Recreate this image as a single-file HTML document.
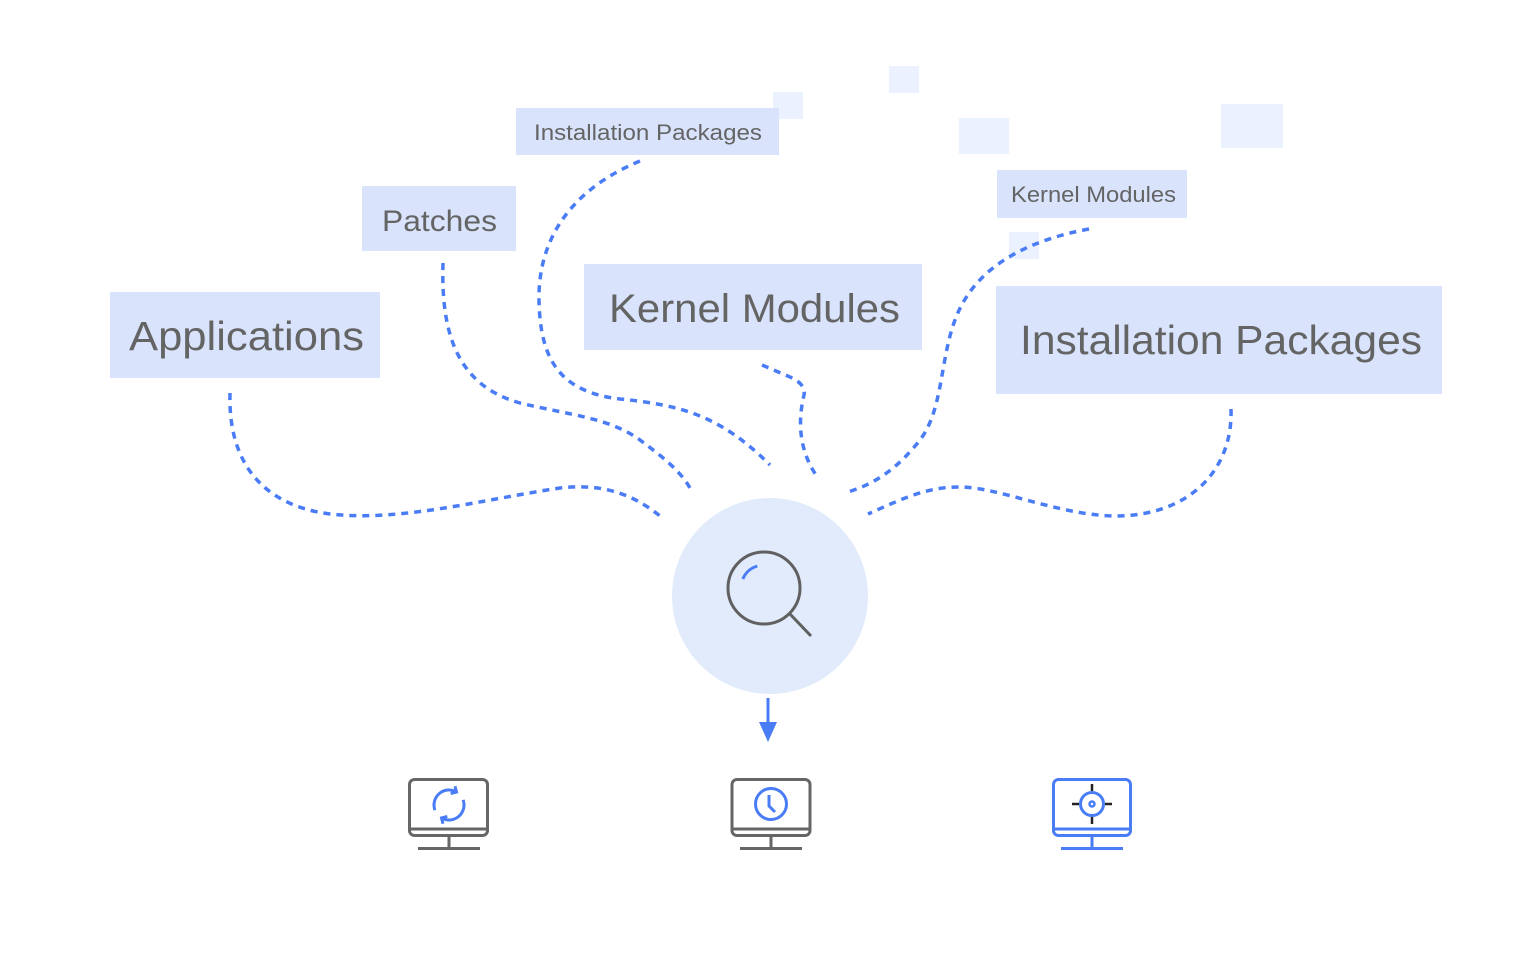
<!DOCTYPE html>
<html>
<head>
<meta charset="utf-8">
<style>
  html,body{margin:0;padding:0;background:#ffffff;}
  body{width:1540px;height:960px;overflow:hidden;}
  svg{display:block;}
  text{font-family:"Liberation Sans", Arial, sans-serif; fill:#646464;}
</style>
</head>
<body>
<svg width="1540" height="960" viewBox="0 0 1540 960" xmlns="http://www.w3.org/2000/svg">
  <rect x="0" y="0" width="1540" height="960" fill="#ffffff"/>

  <!-- decorative squares -->
  <g fill="#ebf1fe">
    <rect x="773" y="92" width="30" height="27"/>
    <rect x="889" y="66" width="30" height="27"/>
    <rect x="959" y="118" width="50" height="36"/>
    <rect x="1221" y="104" width="62" height="44"/>
    <rect x="1009" y="232" width="30" height="27"/>
  </g>

  <!-- label boxes -->
  <g fill="#d9e4fc">
    <rect x="516" y="108" width="263" height="47"/>
    <rect x="362" y="186" width="154" height="65"/>
    <rect x="110" y="292" width="270" height="86"/>
    <rect x="584" y="264" width="338" height="86"/>
    <rect x="997" y="170" width="190" height="48"/>
    <rect x="996" y="286" width="446" height="108"/>
  </g>

  <!-- labels -->
  <text x="534" y="140" font-size="22" textLength="228" lengthAdjust="spacingAndGlyphs">Installation Packages</text>
  <text x="382" y="231" font-size="30" textLength="115" lengthAdjust="spacingAndGlyphs">Patches</text>
  <text x="129" y="350" font-size="41" textLength="235" lengthAdjust="spacingAndGlyphs">Applications</text>
  <text x="609" y="322" font-size="40" textLength="291" lengthAdjust="spacingAndGlyphs">Kernel Modules</text>
  <text x="1011" y="202" font-size="22" textLength="165" lengthAdjust="spacingAndGlyphs">Kernel Modules</text>
  <text x="1020" y="354" font-size="41" textLength="402" lengthAdjust="spacingAndGlyphs">Installation Packages</text>

  <!-- dashed connectors -->
  <g fill="none" stroke="#4a7cf6" stroke-width="3.5" stroke-dasharray="7 6">
    <path d="M230,393 C228,460 260,505 330,514 C400,522 480,500 560,488 C610,482 640,500 660,516"/>
    <path d="M443,263 C441,330 455,385 520,403 C570,415 610,418 640,440 C660,455 680,470 690,488"/>
    <path d="M640,161 C570,190 538,240 539,300 C540,360 560,392 620,399 C680,405 720,415 770,465"/>
    <path d="M762,365 L790,377 Q806,384 804,395 C798,420 798,450 818,478"/>
    <path d="M1089,229 C1030,240 975,265 955,320 C940,360 943,410 920,440 C900,465 880,482 848,492"/>
    <path d="M1231,409 C1233,470 1190,515 1117,516 C1060,516 1000,487 959,487 C925,487 900,500 868,514"/>
  </g>

  <!-- central circle -->
  <circle cx="770" cy="596" r="98" fill="#e1ebfc"/>
  <circle cx="764" cy="588" r="36" fill="none" stroke="#606060" stroke-width="3"/>
  <line x1="789.5" y1="613.5" x2="811" y2="636" stroke="#606060" stroke-width="3"/>
  <path d="M742.8,579 A23,23 0 0 1 757.3,566" fill="none" stroke="#4a7cf6" stroke-width="3"/>

  <!-- arrow -->
  <line x1="768" y1="698" x2="768" y2="726" stroke="#4a7cf6" stroke-width="3"/>
  <polygon points="759,722 777,722 768,742" fill="#4a7cf6"/>

  <!-- monitor 1 : refresh -->
  <g fill="none" stroke="#666666" stroke-width="3">
    <rect x="409.5" y="779.5" width="78" height="56" rx="5"/>
    <line x1="409.5" y1="829" x2="487.5" y2="829"/>
    <line x1="449" y1="836" x2="449" y2="848"/>
    <line x1="418" y1="848.5" x2="480" y2="848.5"/>
  </g>
  <g fill="none" stroke="#4a7cf6" stroke-width="3">
    <path d="M434.9,810.1 A15,15 0 0 1 456.5,792"/>
    <polyline points="455,786.2 456.5,792 450.7,793.5"/>
    <path d="M463.1,799.9 A15,15 0 0 1 441.5,818"/>
    <polyline points="443,823.8 441.5,818 447.3,816.5"/>
  </g>

  <!-- monitor 2 : clock -->
  <g fill="none" stroke="#666666" stroke-width="3">
    <rect x="732" y="779.5" width="78" height="56" rx="5"/>
    <line x1="732" y1="829" x2="810" y2="829"/>
    <line x1="771" y1="836" x2="771" y2="848"/>
    <line x1="740" y1="848.5" x2="802" y2="848.5"/>
  </g>
  <g fill="none" stroke="#4a7cf6" stroke-width="3">
    <circle cx="771" cy="804" r="15.5"/>
    <polyline points="769,795 769,806 775,812"/>
  </g>

  <!-- monitor 3 : target (blue) -->
  <g fill="none" stroke="#4a7cf6" stroke-width="3">
    <rect x="1053.5" y="779.5" width="77" height="56" rx="5"/>
    <line x1="1053.5" y1="829" x2="1130.5" y2="829"/>
    <line x1="1092" y1="836" x2="1092" y2="848"/>
    <line x1="1061" y1="848.5" x2="1123" y2="848.5"/>
    <circle cx="1092" cy="804" r="11.5"/>
    <circle cx="1092" cy="804" r="2.5" stroke-width="2.5"/>
  </g>
  <g stroke="#222222" stroke-width="2.5">
    <line x1="1092" y1="784" x2="1092" y2="791"/>
    <line x1="1092" y1="817" x2="1092" y2="824"/>
    <line x1="1072" y1="804" x2="1079" y2="804"/>
    <line x1="1105" y1="804" x2="1112" y2="804"/>
  </g>
</svg>
</body>
</html>
